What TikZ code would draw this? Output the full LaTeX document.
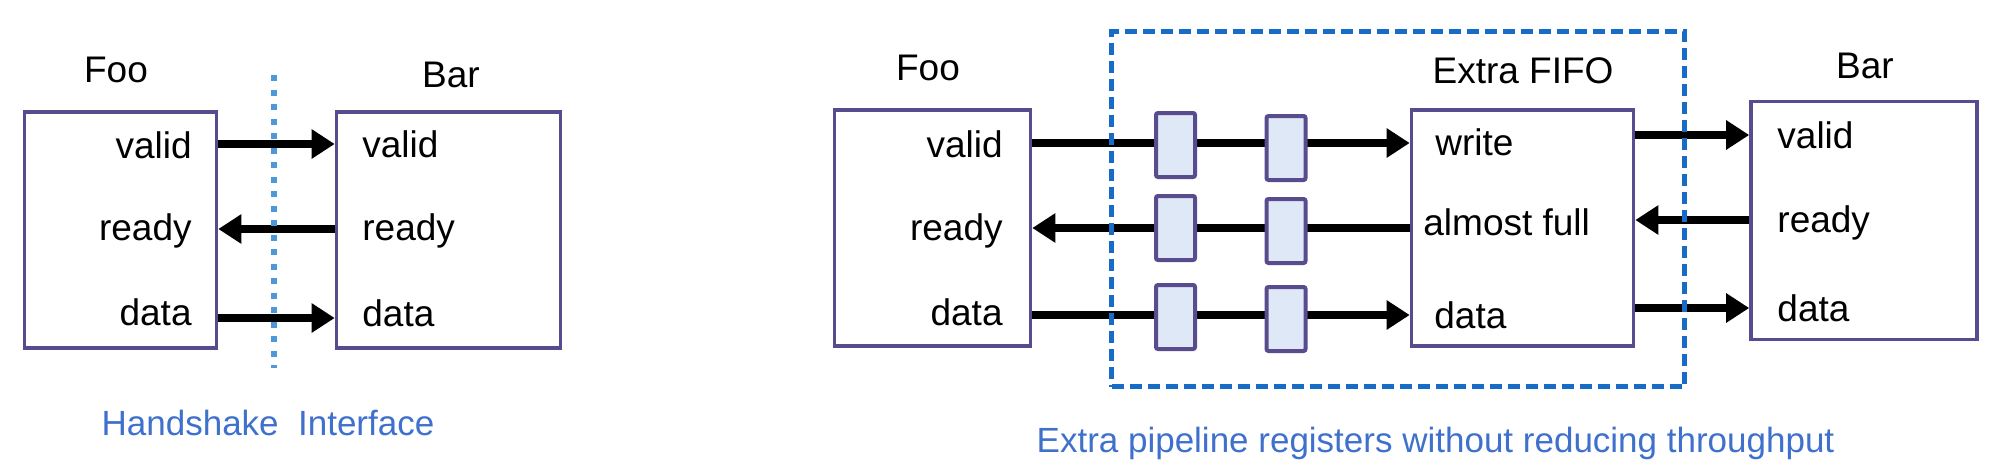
\documentclass[tikz,border=0pt]{standalone}
\usepackage{fontspec}
\setmainfont{Liberation Sans}
\usetikzlibrary{positioning,arrows.meta}
\definecolor{boxline}{RGB}{88,76,142}
\definecolor{regfill}{RGB}{222,232,246}
\definecolor{dotblue}{RGB}{78,152,218}
\definecolor{dashblue}{RGB}{22,108,198}
\definecolor{noteblue}{RGB}{62,112,204}
\tikzset{
>={Triangle[length=11.5pt,width=14pt]},
sig/.style={->, line width=4pt},
block/.style={draw=boxline, line width=1.8pt, minimum height=118pt, inner sep=0pt},
reg/.style={draw=boxline, fill=regfill, line width=2pt, rounded corners=1pt,
  minimum width=19.5pt, minimum height=32pt, inner sep=0pt},
port/.style={font=\fontsize{18.5}{22}\selectfont, inner sep=0pt},
title/.style={port, anchor=base},
note/.style={text=noteblue, font=\fontsize{17.5}{21}\selectfont, inner sep=0pt, anchor=base},
sepline/.style={draw=dotblue, line width=3pt, dash pattern=on 3pt off 4.25pt},
pipebox/.style={draw=dashblue, line width=2.5pt, dash pattern=on 6pt off 3pt, inner sep=0pt},
}

\begin{document}
\begin{tikzpicture}[x=0.5pt,y=0.5pt]
    \useasboundingbox (0,0) rectangle (2000,473);

    % rows of the signals
    \coordinate (lv) at (0,329);
    \coordinate (lr) at (0,244);
    \coordinate (ld) at (0,155);
    \coordinate (rv) at (0,330);
    \coordinate (rr) at (0,245);
    \coordinate (rd) at (0,158);
    \coordinate (bv) at (0,338);
    \coordinate (br) at (0,253);
    \coordinate (bd) at (0,165);

    % handshake interface
    \node[block,minimum width=96pt] (foo) at (120.5,243) {};
    \node[block,minimum width=112pt] (bar) at (448.5,243) {};
    \node[title] (fooT) at (116,391) {Foo};
    \node[title] (barT) at (451,386) {Bar};

    \node[port,anchor=base east] (fooV) at (192,315) {valid};
    \node[port,anchor=base east] (fooR) at (192,233) {ready};
    \node[port,anchor=base east] (fooD) at (192,148) {data};
    \node[port,anchor=base west] (barV) at (362,316) {valid};
    \node[port,anchor=base west] (barR) at (362,233) {ready};
    \node[port,anchor=base west] (barD) at (362,147) {data};

    \draw[sig] (foo.east |- lv) -- (bar.west |- lv);
    \draw[sig] (bar.west |- lr) -- (foo.east |- lr);
    \draw[sig] (foo.east |- ld) -- (bar.west |- ld);

    \coordinate (sepA) at (274,398);
    \coordinate (sepB) at (274,105);
    \draw[sepline] (sepA) -- (sepB);
    \node[note] (hsT) at (268,38) {Handshake\ \ Interface};

    % extra pipeline registers
    \node[block,minimum width=98pt] (foo2) at (932.5,245) {};
    \node[block,minimum width=111pt] (fifo) at (1522.5,245) {};
    \node[block,minimum width=113pt,minimum height=119pt] (bar2) at (1864,252.5) {};
    \node[title] (foo2T) at (928,393) {Foo};
    \node[title] (fifoT) at (1523,390) {Extra FIFO};
    \node[title] (bar2T) at (1865,395) {Bar};

    \node[port,anchor=base east] (foo2V) at (1003,316) {valid};
    \node[port,anchor=base east] (foo2R) at (1003,233) {ready};
    \node[port,anchor=base east] (foo2D) at (1003,148) {data};
    \node[port,anchor=base west] (fifoW) at (1435,318) {write};
    \node[port,anchor=base west] (fifoF) at (1423,238) {almost full};
    \node[port,anchor=base west] (fifoD) at (1434,145) {data};
    \node[port,anchor=base west] (bar2V) at (1777,325) {valid};
    \node[port,anchor=base west] (bar2R) at (1777,241) {ready};
    \node[port,anchor=base west] (bar2D) at (1777,152) {data};

    \draw[sig] (foo2.east |- rv) -- (fifo.west |- rv);
    \draw[sig] (fifo.west |- rr) -- (foo2.east |- rr);
    \draw[sig] (foo2.east |- rd) -- (fifo.west |- rd);
    \draw[sig] (fifo.east |- bv) -- (bar2.west |- bv);
    \draw[sig] (bar2.west |- br) -- (fifo.east |- br);
    \draw[sig] (fifo.east |- bd) -- (bar2.west |- bd);

    \node[reg] (r1v) at (1175.5,328) {};
    \node[reg] (r1r) at (1175.5,245) {};
    \node[reg] (r1d) at (1175.5,156) {};
    \node[reg] (r2v) at (1286,325) {};
    \node[reg] (r2r) at (1286,242) {};
    \node[reg] (r2d) at (1286,154) {};

    \node[pipebox,minimum width=286.5pt,minimum height=177.5pt] (pipe) at (1398,264) {};
    \node[note] (pipeT) at (1435.5,21) {Extra pipeline registers without reducing throughput};

\end{tikzpicture}
\end{document}
